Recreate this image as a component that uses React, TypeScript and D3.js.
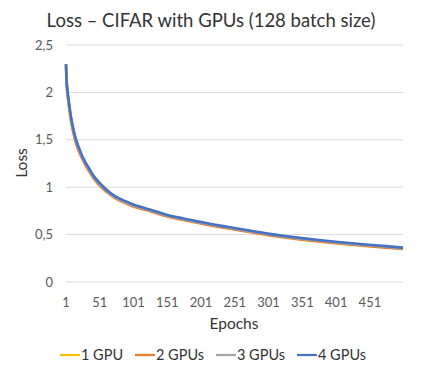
import React, { useEffect, useRef } from 'react';
import * as d3 from 'd3';

// epochs sampled from the curves
const epochs = [1, 2, 3, 4, 6, 8, 10, 13, 16, 20, 25, 30, 35, 40, 45, 50, 57, 65, 75, 90, 100, 115, 125, 150, 175, 200, 225, 250, 275, 300, 325, 350, 375, 400, 425, 450, 475, 500];

const loss1 = [2.29, 2.10, 2.00, 1.94, 1.83, 1.73, 1.65, 1.55, 1.47, 1.39, 1.31, 1.24, 1.18, 1.12, 1.07, 1.03, 0.98, 0.935, 0.885, 0.835, 0.805, 0.772, 0.752, 0.697, 0.657, 0.622, 0.588, 0.558, 0.528, 0.498, 0.473, 0.451, 0.431, 0.413, 0.396, 0.381, 0.366, 0.351];
const loss2 = [2.28, 2.09, 1.99, 1.93, 1.82, 1.72, 1.64, 1.54, 1.46, 1.38, 1.30, 1.23, 1.17, 1.115, 1.065, 1.025, 0.975, 0.93, 0.88, 0.83, 0.80, 0.768, 0.748, 0.693, 0.653, 0.618, 0.584, 0.554, 0.524, 0.494, 0.469, 0.447, 0.428, 0.41, 0.393, 0.378, 0.363, 0.348];
const loss3 = [2.30, 2.11, 2.02, 1.96, 1.85, 1.75, 1.67, 1.57, 1.49, 1.41, 1.32, 1.25, 1.19, 1.13, 1.08, 1.04, 0.99, 0.94, 0.89, 0.84, 0.812, 0.778, 0.758, 0.703, 0.663, 0.628, 0.594, 0.564, 0.534, 0.504, 0.479, 0.457, 0.437, 0.419, 0.402, 0.387, 0.372, 0.357];
const loss4 = [2.30, 2.12, 2.03, 1.97, 1.86, 1.76, 1.68, 1.58, 1.50, 1.42, 1.33, 1.26, 1.20, 1.14, 1.09, 1.05, 1.00, 0.95, 0.90, 0.85, 0.82, 0.785, 0.765, 0.71, 0.67, 0.635, 0.60, 0.57, 0.54, 0.51, 0.485, 0.463, 0.443, 0.425, 0.408, 0.393, 0.378, 0.363];

const seriesNames = ['1 GPU', '2 GPUs', '3 GPUs', '4 GPUs'];
const seriesValues = [loss1, loss2, loss3, loss4];
const colors = ['#FFC000', '#ED7D31', '#A5A5A5', '#4472C4'];

const yTicks = [0, 0.5, 1, 1.5, 2, 2.5];
const xTicks = [1, 51, 101, 151, 201, 251, 301, 351, 401, 451];

const W = 423, H = 376;
const FONT = 'Lato, "Open Sans", sans-serif';

const App = () => {
  const ref = useRef(null);

  useEffect(() => {
    const svg = d3.select(ref.current);
    svg.selectAll('*').remove();

    const x = d3.scaleLinear().domain([1, 500]).range([66, 403]);
    const y = d3.scaleLinear().domain([0, 2.5]).range([282, 45]);

    // title
    svg.append('text')
      .attr('x', 211).attr('y', 27)
      .attr('text-anchor', 'middle')
      .style('font-family', FONT).style('font-size', '18.5px')
      .attr('fill', '#333')
      .text('Loss \u2013 CIFAR with GPUs (128 batch size)');

    // gridlines
    svg.append('g').selectAll('line')
      .data(yTicks).enter().append('line')
      .attr('x1', 66).attr('x2', 403)
      .attr('y1', d => y(d)).attr('y2', d => y(d))
      .attr('stroke', '#D9D9D9').attr('stroke-width', 1);

    // y labels
    svg.append('g').selectAll('text')
      .data(yTicks).enter().append('text')
      .attr('x', 53).attr('y', d => y(d) + 4.5)
      .attr('text-anchor', 'end')
      .style('font-family', FONT).style('font-size', '13px')
      .attr('fill', '#595959')
      .text(d => String(d).replace('.', ','));

    // x labels
    svg.append('g').selectAll('text')
      .data(xTicks).enter().append('text')
      .attr('x', d => x(d)).attr('y', 307)
      .attr('text-anchor', 'middle')
      .style('font-family', FONT).style('font-size', '13px')
      .attr('fill', '#595959')
      .text(d => d);

    // axis titles
    svg.append('text')
      .attr('x', 234).attr('y', 329)
      .attr('text-anchor', 'middle')
      .style('font-family', FONT).style('font-size', '15.5px')
      .attr('fill', '#333')
      .text('Epochs');
    svg.append('text')
      .attr('transform', 'translate(27,163) rotate(-90)')
      .attr('text-anchor', 'middle')
      .style('font-family', FONT).style('font-size', '15.5px')
      .attr('fill', '#333')
      .text('Loss');

    // lines
    const line = d3.line()
      .x((d, i) => x(epochs[i]))
      .y(d => y(d))
      .curve(d3.curveMonotoneX);

    svg.append('g').selectAll('path')
      .data(seriesValues).enter().append('path')
      .attr('d', d => line(d))
      .attr('fill', 'none')
      .attr('stroke', (d, i) => colors[i])
      .attr('stroke-width', 2.6)
      .attr('stroke-linejoin', 'round');

    // legend
    const legendX = [60, 135, 216, 297];
    const lg = svg.append('g').selectAll('g')
      .data(seriesNames).enter().append('g')
      .attr('transform', (d, i) => 'translate(' + legendX[i] + ',355)');
    lg.append('line')
      .attr('x1', 0).attr('x2', 20).attr('y1', 0).attr('y2', 0)
      .attr('stroke', (d, i) => colors[i]).attr('stroke-width', 2.25);
    lg.append('text')
      .attr('x', 21).attr('y', 5)
      .style('font-family', FONT).style('font-size', '14.5px')
      .attr('fill', '#333')
      .text(d => d);
  }, []);

  return (
    <svg ref={ref} width={W} height={H} style={{ display: 'block', position: 'absolute', left: 0, top: 0, background: '#fff' }} />
  );
};

export default App;
